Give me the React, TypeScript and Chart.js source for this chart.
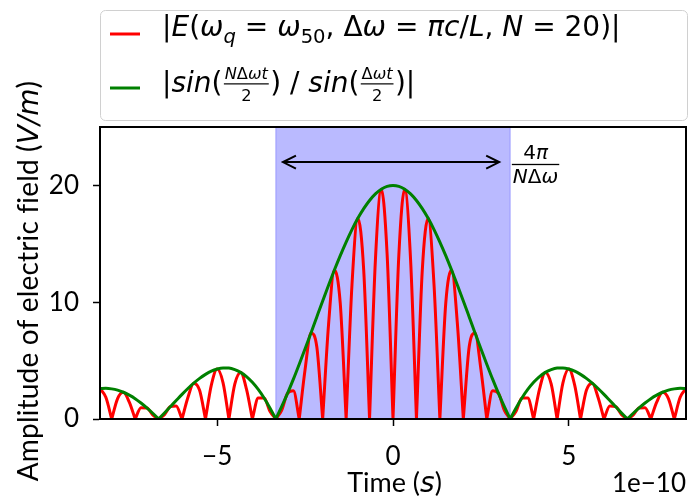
import React, { useEffect, useRef } from 'react';
import { Chart, registerables } from 'chart.js';

Chart.register(...registerables);

// ---------- data (time in units of 1e-10 s) ----------
const timeE10 = [
  -8.333, -8.167, -8.0, -7.833, -7.667, -7.5, -7.333, -7.167, -7.0, -6.833,
  -6.667, -6.5, -6.333, -6.167, -6.0, -5.833, -5.667, -5.5, -5.333, -5.167,
  -5.0, -4.833, -4.667, -4.5, -4.333, -4.167, -4.0, -3.833, -3.667, -3.5,
  -3.333, -3.167, -3.0, -2.833, -2.667, -2.5, -2.333, -2.167, -2.0, -1.833,
  -1.667, -1.5, -1.333, -1.167, -1.0, -0.833, -0.667, -0.5, -0.333, -0.167,
  0,
  0.167, 0.333, 0.5, 0.667, 0.833, 1.0, 1.167, 1.333, 1.5, 1.667,
  1.833, 2.0, 2.167, 2.333, 2.5, 2.667, 2.833, 3.0, 3.167, 3.333,
  3.5, 3.667, 3.833, 4.0, 4.167, 4.333, 4.5, 4.667, 4.833, 5.0,
  5.167, 5.333, 5.5, 5.667, 5.833, 6.0, 6.167, 6.333, 6.5, 6.667,
  6.833, 7.0, 7.167, 7.333, 7.5, 7.667, 7.833, 8.0, 8.167, 8.333,
];

const envelopeValues = [
  2.61, 2.63, 2.58, 2.47, 2.29, 2.04, 1.74, 1.37, 0.95, 0.49,
  0, 0.52, 1.05, 1.58, 2.11, 2.61, 3.07, 3.48, 3.82, 4.10,
  4.28, 4.37, 4.36, 4.23, 3.99, 3.63, 3.14, 2.53, 1.80, 0.95,
  0, 1.05, 2.19, 3.41, 4.69, 6.02, 7.37, 8.74, 10.11, 11.45,
  12.75, 13.99, 15.15, 16.22, 17.18, 18.01, 18.71, 19.27, 19.67, 19.92,
  20,
  19.92, 19.67, 19.27, 18.71, 18.01, 17.18, 16.22, 15.15, 13.99, 12.75,
  11.45, 10.11, 8.74, 7.37, 6.02, 4.69, 3.41, 2.19, 1.05, 0,
  0.95, 1.80, 2.53, 3.14, 3.63, 3.99, 4.23, 4.36, 4.37, 4.28,
  4.10, 3.82, 3.48, 3.07, 2.61, 2.11, 1.58, 1.05, 0.52, 0,
  0.49, 0.95, 1.37, 1.74, 2.04, 2.29, 2.47, 2.58, 2.63, 2.61,
];

const fieldValues = [
  2.61, 1.86, 0, 1.75, 2.29, 1.44, 0, 0.97, 0.95, 0.35,
  0, 0.37, 1.05, 1.12, 0, 1.84, 3.07, 2.46, 0, 2.90,
  4.28, 3.09, 0, 2.99, 3.99, 2.56, 0, 1.79, 1.80, 0.67,
  0, 0.74, 2.19, 2.41, 0, 4.25, 7.37, 6.18, 0, 8.09,
  12.75, 9.89, 0, 11.47, 17.18, 12.74, 0, 13.63, 19.67, 14.08,
  0,
  14.08, 19.67, 13.63, 0, 12.74, 17.18, 11.47, 0, 9.89, 12.75,
  8.09, 0, 6.18, 7.37, 4.25, 0, 2.41, 2.19, 0.74, 0,
  0.67, 1.80, 1.79, 0, 2.56, 3.99, 2.99, 0, 3.09, 4.28,
  2.90, 0, 2.46, 3.07, 1.84, 0, 1.12, 1.05, 0.37, 0,
  0.35, 0.95, 0.97, 0, 1.44, 2.29, 1.75, 0, 1.86, 2.61,
];

const xTickValues = [-5, 0, 5];
const yTickValues = [0, 10, 20];
const xLimits = [-8.333, 8.333];
const yLimits = [0, 25];
const shadedSpan = [-3.333, 3.333];
const arrowEnds = [-3.13, 3.02];
const arrowLevel = 22;
const annotationAt = [3.38, 22];
const axisOffsetLabel = '1e\u221210';

// ---------- styling ----------
const TEXT_FONT = 'Lato, "Open Sans", sans-serif';
const MATH_FONT = '"DejaVu Sans", sans-serif';

type Run = { t?: string; it?: boolean; sub?: boolean; text?: boolean; frac?: [Run[], Run[]] };

function drawRuns(
  ctx: CanvasRenderingContext2D, runs: Run[], x: number, base: number, size: number,
  measureOnly = false, textSize = size, spacing = 0,
): number {
  let cx = x;
  for (const r of runs) {
    if (r.frac) {
      const fs = size * 0.58;
      const wn = drawRuns(ctx, r.frac[0], 0, 0, fs, true);
      const wd = drawRuns(ctx, r.frac[1], 0, 0, fs, true);
      const w = Math.max(wn, wd) + size * 0.16;
      if (!measureOnly) {
        drawRuns(ctx, r.frac[0], cx + (w - wn) / 2, base - size * 0.45, fs);
        drawRuns(ctx, r.frac[1], cx + (w - wd) / 2, base + size * 0.33, fs);
        ctx.fillRect(cx + size * 0.05, base - size * 0.29 - 0.6, w - size * 0.1, 1.2);
      }
      cx += w;
      continue;
    }
    const fs = r.text ? textSize : r.sub ? size * 0.7 : size;
    const fam = r.text ? TEXT_FONT : MATH_FONT;
    ctx.font = `${r.it ? 'italic ' : ''}${fs}px ${fam}`;
    (ctx as any).letterSpacing = r.text && spacing ? `${spacing}px` : '0px';
    const w = ctx.measureText(r.t || '').width;
    if (!measureOnly) ctx.fillText(r.t || '', cx, base + (r.sub ? size * 0.25 : 0));
    cx += w;
  }
  (ctx as any).letterSpacing = '0px';
  return cx - x;
}

const legendLine1: Run[] = [
  { t: '|' }, { t: 'E', it: true }, { t: '(' }, { t: 'ω', it: true }, { t: 'q', it: true, sub: true },
  { t: ' = ' }, { t: 'ω', it: true }, { t: '50', sub: true }, { t: ', ' }, { t: 'Δ' }, { t: 'ω', it: true },
  { t: ' = ' }, { t: 'π', it: true }, { t: 'c', it: true }, { t: '/' }, { t: 'L', it: true }, { t: ', ' },
  { t: 'N', it: true }, { t: ' = 20)|' },
];
const legendLine2: Run[] = [
  { t: '|' }, { t: 'sin', it: true }, { t: '(' },
  { frac: [[{ t: 'N', it: true }, { t: 'Δ' }, { t: 'ω', it: true }, { t: 't', it: true }], [{ t: '2' }]] },
  { t: ') / ' }, { t: 'sin', it: true }, { t: '(' },
  { frac: [[{ t: 'Δ' }, { t: 'ω', it: true }, { t: 't', it: true }], [{ t: '2' }]] },
  { t: ')|' },
];
const yLabelRuns: Run[] = [{ t: 'Amplitude of electric field (', text: true }, { t: 'V/m', it: true }, { t: ')', text: true }];
const xLabelRuns: Run[] = [{ t: 'Time (', text: true }, { t: 's', it: true }, { t: ')', text: true }];
const annotationRuns: [Run[], Run[]] = [
  [{ t: '4' }, { t: 'π', it: true }],
  [{ t: 'N', it: true }, { t: 'Δ' }, { t: 'ω', it: true }],
];

function buildSegments(xs: number[], ys: number[]) {
  const pts: { x: number; y: number | null }[] = [];
  for (let i = 0; i < xs.length; i++) {
    pts.push({ x: xs[i], y: ys[i] });
    if (ys[i] === 0 && i > 0 && i < xs.length - 1) {
      pts.push({ x: xs[i], y: null });
      pts.push({ x: xs[i], y: 0 });
    }
  }
  return pts;
}

const fmt = (v: number | string) => {
  const n = Number(v);
  return n < 0 ? '\u2212' + Math.abs(n) : String(n);
};

const decorations = {
  id: 'decorations',
  beforeDatasetsDraw(chart: any) {
    const { ctx, chartArea, scales } = chart;
    const x0 = scales.x.getPixelForValue(shadedSpan[0]);
    const x1 = scales.x.getPixelForValue(shadedSpan[1]);
    ctx.save();
    ctx.fillStyle = 'rgba(0,0,255,0.27)';
    ctx.fillRect(x0, chartArea.top, x1 - x0, chartArea.bottom - chartArea.top);
    ctx.strokeStyle = 'rgba(0,0,255,0.27)';
    ctx.lineWidth = 1;
    ctx.strokeRect(x0, chartArea.top, x1 - x0, chartArea.bottom - chartArea.top);
    ctx.restore();
  },
  afterDatasetsDraw(chart: any) {
    const { ctx, chartArea, scales } = chart;
    ctx.save();
    ctx.strokeStyle = '#000';
    ctx.lineWidth = 2;
    ctx.strokeRect(chartArea.left, chartArea.top, chartArea.right - chartArea.left, chartArea.bottom - chartArea.top);
    // arrow
    const ax0 = scales.x.getPixelForValue(arrowEnds[0]);
    const ax1 = scales.x.getPixelForValue(arrowEnds[1]);
    const ay = scales.y.getPixelForValue(arrowLevel);
    ctx.lineWidth = 2;
    ctx.lineCap = 'butt';
    ctx.beginPath();
    ctx.moveTo(ax0, ay);
    ctx.lineTo(ax1, ay);
    ctx.stroke();
    ctx.lineJoin = 'miter';
    ctx.beginPath();
    ctx.moveTo(ax0 + 13, ay - 6.5);
    ctx.lineTo(ax0, ay);
    ctx.lineTo(ax0 + 13, ay + 6.5);
    ctx.moveTo(ax1 - 13, ay - 6.5);
    ctx.lineTo(ax1, ay);
    ctx.lineTo(ax1 - 13, ay + 6.5);
    ctx.stroke();
    // fraction annotation
    const px = scales.x.getPixelForValue(annotationAt[0]);
    const py = scales.y.getPixelForValue(annotationAt[1]);
    const fs = 20;
    ctx.fillStyle = '#000';
    ctx.textBaseline = 'alphabetic';
    const wn = drawRuns(ctx, annotationRuns[0], 0, 0, fs, true);
    const wd = drawRuns(ctx, annotationRuns[1], 0, 0, fs, true);
    const w = Math.max(wn, wd) + 2;
    drawRuns(ctx, annotationRuns[0], px + (w - wn) / 2, py - 3, fs);
    drawRuns(ctx, annotationRuns[1], px + (w - wd) / 2, py + 21, fs);
    ctx.fillRect(px, py + 1.8, w, 1.3);
    ctx.restore();
  },
  afterDraw(chart: any) {
    const { ctx, chartArea } = chart;
    ctx.save();
    ctx.fillStyle = '#000';
    ctx.textBaseline = 'alphabetic';
    // x label
    const wx = drawRuns(ctx, xLabelRuns, 0, 0, 28, true, 27);
    drawRuns(ctx, xLabelRuns, 394.5 - wx / 2, 492, 28, false, 27);
    // offset label
    ctx.font = `26px ${TEXT_FONT}`;
    ctx.textAlign = 'right';
    ctx.fillText(axisOffsetLabel, chartArea.right, 492);
    ctx.textAlign = 'left';
    // y label, stretched to the reference's length with letter spacing
    const natural = drawRuns(ctx, yLabelRuns, 0, 0, 28, true, 28);
    const nChars = 'Amplitude of electric field ()'.length;
    const spacing = Math.max(0, (400 - natural) / nChars);
    const wy = drawRuns(ctx, yLabelRuns, 0, 0, 28, true, 28, spacing);
    ctx.save();
    ctx.translate(38, 281);
    ctx.rotate(-Math.PI / 2);
    drawRuns(ctx, yLabelRuns, -wy / 2, 0, 28, false, 28, spacing);
    ctx.restore();
    // legend
    const lx = 100.5, ly = 10.5, lw = 587, lh = 110;
    ctx.beginPath();
    ctx.roundRect(lx, ly, lw, lh, 5);
    ctx.fillStyle = 'rgba(255,255,255,0.85)';
    ctx.fill();
    ctx.strokeStyle = '#d0d0d0';
    ctx.lineWidth = 1;
    ctx.stroke();
    ctx.lineWidth = 3;
    ctx.lineCap = 'butt';
    ctx.strokeStyle = '#ff0000';
    ctx.beginPath(); ctx.moveTo(110, 34); ctx.lineTo(140, 34); ctx.stroke();
    ctx.strokeStyle = '#008000';
    ctx.beginPath(); ctx.moveTo(110, 88); ctx.lineTo(140, 88); ctx.stroke();
    ctx.fillStyle = '#000';
    drawRuns(ctx, legendLine1, 162, 36, 28);
    drawRuns(ctx, legendLine2, 162, 92, 28);
    ctx.restore();
  },
};

export default function App() {
  const ref = useRef<HTMLCanvasElement | null>(null);
  useEffect(() => {
    if (!ref.current) return;
    const tickFont = { family: TEXT_FONT, size: 26 };
    const chart = new Chart(ref.current, {
      type: 'line',
      data: {
        datasets: [
          {
            label: 'field',
            data: buildSegments(timeE10, fieldValues) as any,
            borderColor: '#ff0000',
            borderWidth: 3,
            cubicInterpolationMode: 'monotone',
            spanGaps: false,
            pointRadius: 0,
            borderCapStyle: 'round',
            borderJoinStyle: 'round',
            order: 1,
          },
          {
            label: 'envelope',
            data: buildSegments(timeE10, envelopeValues) as any,
            borderColor: '#008000',
            borderWidth: 3,
            cubicInterpolationMode: 'monotone',
            spanGaps: false,
            pointRadius: 0,
            borderCapStyle: 'round',
            borderJoinStyle: 'round',
            order: 0,
          },
        ],
      },
      options: {
        animation: false,
        responsive: false,
        layout: { padding: { left: 0, top: 127, right: 3, bottom: 0 } },
        plugins: { legend: { display: false }, tooltip: { enabled: false } },
        scales: {
          x: {
            type: 'linear',
            min: xLimits[0],
            max: xLimits[1],
            afterBuildTicks: (s: any) => { s.ticks = xTickValues.map((v) => ({ value: v })); },
            afterFit: (s: any) => { s.height = 82; },
            ticks: { font: tickFont, color: '#000', padding: 15, maxRotation: 0, autoSkip: false, callback: fmt },
            grid: { drawOnChartArea: false, drawTicks: true, tickLength: 7, tickColor: '#000', tickWidth: 1.5 },
            border: { display: true, color: '#000', width: 2 },
          },
          y: {
            type: 'linear',
            min: yLimits[0],
            max: yLimits[1],
            afterBuildTicks: (s: any) => { s.ticks = yTickValues.map((v) => ({ value: v })); },
            afterFit: (s: any) => { s.width = 100; },
            ticks: { font: tickFont, color: '#000', padding: 14, autoSkip: false, callback: fmt },
            grid: { drawOnChartArea: false, drawTicks: true, tickLength: 7, tickColor: '#000', tickWidth: 1.5 },
            border: { display: true, color: '#000', width: 2 },
          },
        },
      },
      plugins: [decorations],
    });
    return () => chart.destroy();
  }, []);
  return (
    <div style={{ position: 'fixed', left: 0, top: 0, width: 689, height: 501, background: '#fff' }}>
      <canvas ref={ref} width={689} height={501} style={{ display: 'block' }} />
    </div>
  );
}
